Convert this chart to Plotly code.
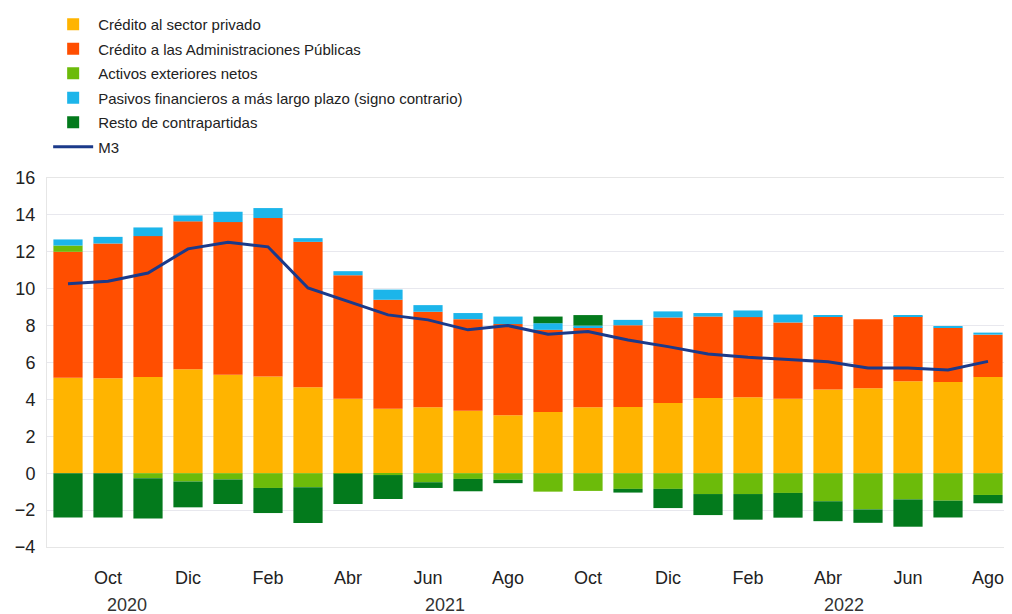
import plotly.graph_objects as go

months = ["Sep 2020", "Oct 2020", "Nov 2020", "Dic 2020", "Ene 2021", "Feb 2021",
          "Mar 2021", "Abr 2021", "May 2021", "Jun 2021", "Jul 2021", "Ago 2021",
          "Sep 2021", "Oct 2021", "Nov 2021", "Dic 2021", "Ene 2022", "Feb 2022",
          "Mar 2022", "Abr 2022", "May 2022", "Jun 2022", "Jul 2022", "Ago 2022"]

credito_privado = [5.17, 5.14, 5.21, 5.63, 5.34, 5.24, 4.66, 4.03, 3.50, 3.58, 3.38, 3.14,
                   3.32, 3.58, 3.59, 3.81, 4.07, 4.12, 4.03, 4.54, 4.61, 4.99, 4.94, 5.21]
credito_aapp = [6.83, 7.31, 7.64, 8.02, 8.27, 8.59, 7.88, 6.70, 5.90, 5.17, 4.97, 4.94,
                4.45, 4.33, 4.43, 4.63, 4.42, 4.34, 4.14, 3.94, 3.74, 3.52, 2.94, 2.30]
activos_ext = [0.34, 0.00, -0.27, -0.45, -0.34, -0.80, -0.76, -0.03, -0.10, -0.49, -0.31, -0.36,
               -1.00, -0.96, -0.85, -0.85, -1.13, -1.13, -1.07, -1.52, -1.96, -1.42, -1.49, -1.18]
pasivos_lp = [0.33, 0.36, 0.47, 0.32, 0.56, 0.54, 0.20, 0.22, 0.55, 0.36, 0.33, 0.41,
              0.36, 0.09, 0.29, 0.33, 0.19, 0.36, 0.43, 0.07, 0.00, 0.06, 0.09, 0.11]
resto = [-2.40, -2.40, -2.18, -1.40, -1.33, -1.36, -1.94, -1.64, -1.30, -0.31, -0.67, -0.18,
         0.36, 0.57, -0.20, -1.04, -1.14, -1.39, -1.34, -1.08, -0.73, -1.48, -0.91, -0.45]
m3 = [10.27, 10.40, 10.85, 12.16, 12.52, 12.27, 10.04, 9.30, 8.58, 8.31, 7.77, 8.00,
      7.53, 7.68, 7.22, 6.86, 6.46, 6.28, 6.17, 6.04, 5.70, 5.70, 5.59, 6.06]

tick_idx = [1, 3, 5, 7, 9, 11, 13, 15, 17, 19, 21, 23]
tick_labels = ["Oct", "Dic", "Feb", "Abr", "Jun", "Ago", "Oct", "Dic", "Feb", "Abr", "Jun", "Ago"]
year_labels = ["2020", "2021", "2022"]
year_pos = [1.48, 9.43, 19.4]

x = list(range(len(months)))

series = [
    ("Crédito al sector privado", credito_privado, "#FFB400"),
    ("Crédito a las Administraciones Públicas", credito_aapp, "#FF4E00"),
    ("Activos exteriores netos", activos_ext, "#6CBB0A"),
    ("Pasivos financieros a más largo plazo (signo contrario)", pasivos_lp, "#1CB5EA"),
    ("Resto de contrapartidas", resto, "#037A1C"),
]

fig = go.Figure()
for i, (name, vals, col) in enumerate(series):
    fig.add_trace(go.Bar(x=x, y=vals, name=name, marker_color=col,
                         marker_line_width=0, legendgroup=f"g{i}",
                         customdata=months, hovertemplate="%{customdata}: %{y}<extra>" + name + "</extra>"))
fig.add_trace(go.Scatter(x=x, y=m3, name="M3", mode="lines",
                         line=dict(color="#1B3A8A", width=3), legendgroup="g5"))

for lab, pos in zip(year_labels, year_pos):
    fig.add_annotation(x=pos, y=0, xref="x", yref="paper", text=lab, showarrow=False,
                       yanchor="top", yshift=-46, font=dict(size=18, color="#333333"))

fig.update_layout(
    width=1004, height=606,
    barmode="relative", bargap=0.27,
    paper_bgcolor="white", plot_bgcolor="white",
    margin=dict(l=39, r=7, t=170, b=67, autoexpand=False),
    font=dict(family="Liberation Sans, Arial, sans-serif", color="#222222"),
    showlegend=True,
    legend=dict(x=0.040, y=1.003, yref="container", xref="container", xanchor="left", yanchor="top",
                traceorder="grouped", tracegroupgap=2, font=dict(size=15, color="#222222"),
                bgcolor="rgba(0,0,0,0)", itemwidth=40),
    xaxis=dict(range=[-0.525, 23.425], tickmode="array", tickvals=tick_idx, ticktext=tick_labels,
               showgrid=False, zeroline=False, showline=True, linecolor="#e6e6e6", mirror=True,
               ticks="", ticklabelstandoff=14, tickfont=dict(size=18, color="#222222")),
    yaxis=dict(range=[-4, 16], dtick=2, showgrid=True, gridcolor="#e8e8ee", gridwidth=1,
               zeroline=False, showline=True, linecolor="#e6e6e6", mirror=True,
               ticks="", ticklabelstandoff=7, tickfont=dict(size=18, color="#222222")),
)

fig.write_html("out.html")
